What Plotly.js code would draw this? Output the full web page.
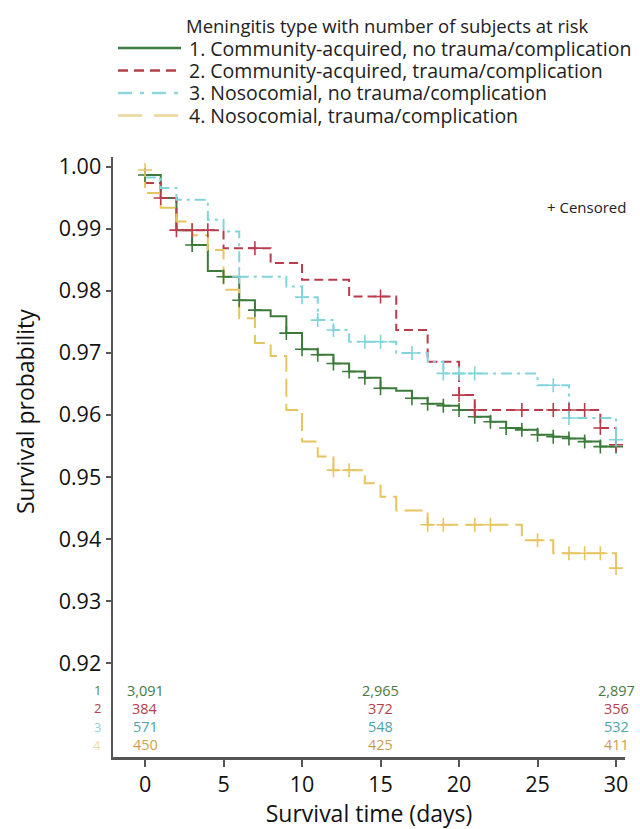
<!DOCTYPE html>
<html>
<head>
<meta charset="utf-8">
<script src="https://cdn.plot.ly/plotly-3.0.1.min.js"></script>
<style>html,body{margin:0;padding:0;background:#fff;}#chart{width:640px;height:829px;}</style>
</head>
<body>
<div id="chart"></div>
<script>
// ---- Data (Kaplan-Meier step curves) ----
const legendTitle = "Meningitis type with number of subjects at risk";
const seriesNames = [
  "1. Community-acquired, no trauma/complication",
  "2. Community-acquired, trauma/complication",
  "3. Nosocomial, no trauma/complication",
  "4. Nosocomial, trauma/complication"
];
const greenTimes = [0,1,2,3,4,5,6,7,8,9,10,11,12,13,14,15,16,17,18,19,20,21,22,23,24,25,26,27,28,29,30];
const greenSurv  = [0.9987,0.995,0.9898,0.9874,0.9832,0.9823,0.9785,0.9769,0.9759,0.9732,0.9706,0.9697,0.9683,0.967,0.966,0.9643,0.9639,0.9627,0.9618,0.9615,0.9608,0.9597,0.9589,0.9579,0.9576,0.9568,0.9565,0.9562,0.9557,0.9549,0.9549];
const greenCensored = [0,3,5,6,7,9,10,11,12,13,14,15,17,18,19,20,21,22,23,24,25,26,27,28,29,30];

const redTimes = [0,1,2,5,8,10,13,16,18,20,21,29,30];
const redSurv  = [0.9974,0.995,0.9898,0.9869,0.9845,0.9818,0.9791,0.9737,0.9686,0.9632,0.9608,0.9579,0.9552];
const redCensored = [1,2,3,4,7,15,20,21,24,26,27,28,29,30];

const cyanTimes = [0,1,2,4,5,6,9,10,11,12,13,16,18,19,25,27,30];
const cyanSurv  = [0.9983,0.9966,0.9947,0.9915,0.9896,0.9823,0.9807,0.979,0.9753,0.9737,0.9718,0.970,0.9686,0.9667,0.9648,0.9595,0.956];
const cyanCensored = [6,10,11,12,14,15,17,19,20,21,26,27,30];

const yellowTimes = [0,0,1,2,3,4,5,6,7,8,9,10,11,12,14,15,16,18,24,26,30];
const yellowSurv  = [0.9995,0.9958,0.9934,0.9912,0.989,0.9866,0.9802,0.9756,0.9716,0.9695,0.9608,0.9557,0.9533,0.9511,0.949,0.9468,0.9446,0.9423,0.9398,0.9377,0.9353];
const yellowCensored = [0,12,13,18,19,21,22,25,27,28,29,30];

// Number at risk table
const riskDays = [0, 15, 30];
const riskLabels = ["1","2","3","4"];
const risk1 = ["3,091","2,965","2,897"];
const risk2 = ["384","372","356"];
const risk3 = ["571","548","532"];
const risk4 = ["450","425","411"];

const yTicks = [0.92,0.93,0.94,0.95,0.96,0.97,0.98,0.99,1.00];
const xTicks = [0,5,10,15,20,25,30];

// ---- Styles ----
const FONT = "'Open Sans', 'Noto Sans', sans-serif";
const lineColors = ["#3b7a3b", "#b83c4c", "#80d4da", "#e6c460"];
const legendColors = ["#3f7d3f", "#b5404c", "#8ed6dc", "#ecd49a"];
const dashes = ["solid", "9px,5px", "11px,5px,3px,5px", "18px,7px"];
const legendDashes = ["solid", "10px,6px", "14px,8px,4px,8px", "24px,12px"];
const labelColors = ["#4f8a45", "#b5404c", "#8fd3d6", "#efd9a6"];
const numColors = ["#4a7a3f", "#b5404c", "#4fa3a6", "#c9a050"];

// pixel -> paper helpers (plot area: x 113..625, y 157..757)
const px2x = p => (p - 113) / 512;
const px2y = p => (757 - p) / 600;

function survAt(ts, ss, t) {
  let v = ss[0];
  for (let i = 0; i < ts.length; i++) {
    if (ts[i] < t || (ts[i] === t && (i === 0 || ts[i] !== ts[i-1]))) v = ss[i];
  }
  return v;
}

const curves = [
  [greenTimes, greenSurv, greenCensored],
  [redTimes, redSurv, redCensored],
  [cyanTimes, cyanSurv, cyanCensored],
  [yellowTimes, yellowSurv, yellowCensored]
];

const traces = [];
curves.forEach((c, i) => {
  traces.push({
    x: c[0], y: c[1], type: "scatter", mode: "lines",
    line: {shape: "hv", color: lineColors[i], width: 2, dash: dashes[i]},
    name: seriesNames[i], showlegend: false, hoverinfo: "skip"
  });
});
curves.forEach((c, i) => {
  traces.push({
    x: c[2], y: c[2].map(t => survAt(c[0], c[1], t)), type: "scatter", mode: "markers",
    marker: {symbol: "cross-thin", size: 10, color: lineColors[i], line: {width: 1.6, color: lineColors[i]}},
    name: seriesNames[i] + " (censored)", showlegend: false, hoverinfo: "skip"
  });
});

const annotations = [];
const shapes = [];
// legend (title + entries)
annotations.push({xref:"paper", yref:"paper", x:px2x(185), y:px2y(25), xanchor:"left", yanchor:"middle",
  text:legendTitle, showarrow:false, borderpad:0, font:{family:FONT, size:18.5, color:"#222"}});
const legendRowsY = [48, 70.5, 93, 115.5];
seriesNames.forEach((name, i) => {
  annotations.push({xref:"paper", yref:"paper", x:px2x(188), y:px2y(legendRowsY[i]), xanchor:"left", yanchor:"middle",
    text:name, showarrow:false, borderpad:0, font:{family:FONT, size:19.5, color:"#222"}});
  shapes.push({type:"line", xref:"paper", yref:"paper", x0:px2x(118), x1:px2x(181),
    y0:px2y(legendRowsY[i]), y1:px2y(legendRowsY[i]),
    line:{color:legendColors[i], width:2.5, dash:legendDashes[i]}});
});
// censored note
annotations.push({xref:"paper", yref:"paper", x:px2x(628), y:px2y(207), xanchor:"right", yanchor:"middle",
  text:"+ Censored", showarrow:false, font:{family:FONT, size:15, color:"#222"}});
// y axis title
annotations.push({xref:"paper", yref:"paper", x:px2x(25), y:px2y(412), xanchor:"center", yanchor:"middle", textangle:-90,
  text:"Survival probability", showarrow:false, font:{family:FONT, size:23, color:"#111"}});
// at-risk table
const riskRows = [risk1, risk2, risk3, risk4];
const rowY = [0.9156, 0.9127, 0.9097, 0.9068];
riskRows.forEach((row, r) => {
  annotations.push({xref:"paper", yref:"y", x:px2x(97), y:rowY[r], xanchor:"center", yanchor:"middle",
    text:riskLabels[r], showarrow:false, borderpad:0, font:{family:FONT, size:13, color:labelColors[r]}});
  row.forEach((val, k) => {
    annotations.push({xref:"x", yref:"y", x:riskDays[k], y:rowY[r], xanchor:"center", yanchor:"middle",
      text:val, showarrow:false, borderpad:0, font:{family:FONT, size:14.5, color:numColors[r]}});
  });
});

const layout = {
  width: 640, height: 829,
  margin: {l:113, r:15, t:157, b:72, pad:0},
  paper_bgcolor: "#fff", plot_bgcolor: "#fff",
  font: {family: FONT, color: "#111"},
  showlegend: false,
  xaxis: {range:[-2.04, 30.57], tickvals:xTicks, ticktext:xTicks.map(String), ticks:"outside", ticklen:7, tickwidth:2,
    tickcolor:"#555", showline:true, linecolor:"#555", linewidth:2.5, showgrid:false, zeroline:false,
    tickfont:{family:FONT, size:21.5, color:"#111"},
    title:{text:"Survival time (days)", font:{family:FONT, size:23, color:"#111"}, standoff:13}},
  yaxis: {range:[0.90484, 1.0016], tickvals:yTicks, ticktext:yTicks.map(v => v.toFixed(2)), ticks:"outside", ticklen:5, tickwidth:2,
    tickcolor:"#555", showline:true, linecolor:"#555", linewidth:2.5, showgrid:false, zeroline:false,
    tickfont:{family:FONT, size:21.5, color:"#111"}},
  annotations: annotations,
  shapes: shapes
};

Plotly.newPlot("chart", traces, layout, {staticPlot:true, displayModeBar:false});
</script>
</body>
</html>
